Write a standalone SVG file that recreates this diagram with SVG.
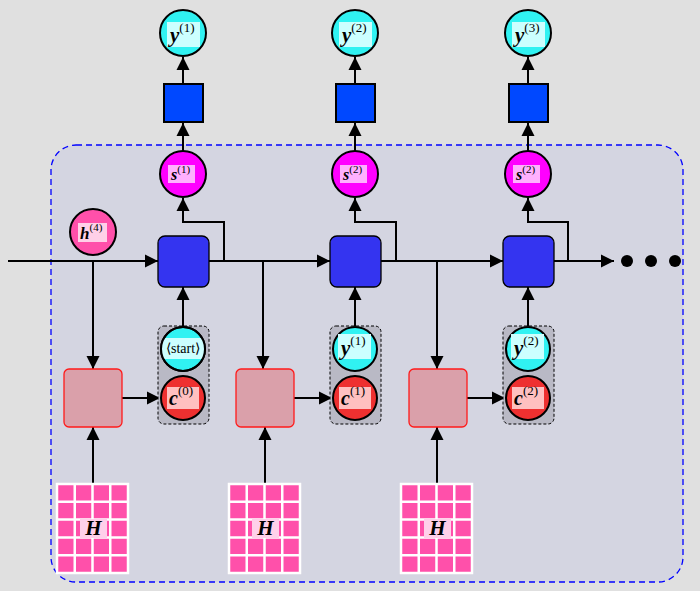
<svg xmlns="http://www.w3.org/2000/svg" width="700" height="591" viewBox="0 0 700 591">
<style>
.ln{stroke:#000;stroke-width:2;fill:none}
.arr{marker-end:url(#ah)}
.cell{fill:#3434f0;stroke:#000;stroke-width:1.3}
.sq{fill:#0048ff;stroke:#000;stroke-width:2}
.ycirc{fill:#30f2f2;stroke:#000;stroke-width:2}
.scirc{fill:#ff00ff;stroke:#000;stroke-width:2}
.ccirc{fill:#ee3030;stroke:#000;stroke-width:2}
.hcirc{fill:#ff50aa;stroke:#000;stroke-width:2}
.att{fill:#daa0aa;stroke:#ff1a1a;stroke-width:1.3}
.grp{fill:#b9b9c5;stroke:#000;stroke-width:1;stroke-dasharray:3,2}
.v{font-family:"Liberation Serif",serif;font-weight:bold;font-style:italic;fill:#000}
.sup{font-family:"Liberation Serif",serif;font-weight:normal;font-style:normal}
.rm{font-family:"Liberation Serif",serif;fill:#000}
</style>
<defs>
<marker id="ah" markerUnits="userSpaceOnUse" markerWidth="14" markerHeight="14" refX="13" refY="7" orient="auto">
<path d="M0,0.5 L13,7 L0,13.5 z" fill="#000"/>
</marker>
<clipPath id="cy1"><circle cx="183" cy="349" r="22"/></clipPath>
<g id="grid">
<rect x="0" y="0" width="71" height="89" fill="#ff50aa" stroke="#fff" stroke-width="2.5"/>
<path d="M17.75,0V89M35.5,0V89M53.25,0V89M0,17.8H71M0,35.6H71M0,53.4H71M0,71.2H71" stroke="#fff" stroke-width="2.5"/>
<rect x="23" y="35" width="27" height="19" fill="#ffd0ea"/>
<text x="36.5" y="51" font-size="21" text-anchor="middle" class="v">H</text>
</g>
</defs>
<rect width="700" height="591" fill="#e0e0e0"/>
<rect x="51" y="145" width="632" height="437" rx="25" fill="#d4d5e1" stroke="#0000ff" stroke-width="1.3" stroke-dasharray="6,4"/>

<g id="connectors">
<line class="ln arr" x1="183" y1="84" x2="183" y2="57"/>
<line class="ln arr" x1="183" y1="151" x2="183" y2="123"/>
<polyline class="ln arr" points="209,261 224,261 224,222 183,222 183,198"/>
<line class="ln arr" x1="8" y1="261" x2="158" y2="261"/>
<line class="ln arr" x1="93" y1="261" x2="93" y2="369"/>
<line class="ln arr" x1="93" y1="484" x2="93" y2="427"/>
<line class="ln arr" x1="122" y1="398" x2="160" y2="398"/>
<line class="ln arr" x1="183" y1="327" x2="183" y2="287"/>
<line class="ln arr" x1="355" y1="84" x2="355" y2="57"/>
<line class="ln arr" x1="355" y1="151" x2="355" y2="123"/>
<polyline class="ln arr" points="381,261 396,261 396,222 355,222 355,198"/>
<line class="ln arr" x1="209" y1="261" x2="330" y2="261"/>
<line class="ln arr" x1="263" y1="261" x2="263" y2="369"/>
<line class="ln arr" x1="265" y1="484" x2="265" y2="427"/>
<line class="ln arr" x1="294" y1="398" x2="332" y2="398"/>
<line class="ln arr" x1="355" y1="327" x2="355" y2="287"/>
<line class="ln arr" x1="528" y1="84" x2="528" y2="57"/>
<line class="ln arr" x1="528" y1="151" x2="528" y2="123"/>
<polyline class="ln arr" points="553,261 568,261 568,222 528,222 528,198"/>
<line class="ln arr" x1="381" y1="261" x2="503" y2="261"/>
<line class="ln arr" x1="437" y1="261" x2="437" y2="369"/>
<line class="ln arr" x1="437" y1="484" x2="437" y2="427"/>
<line class="ln arr" x1="467" y1="398" x2="505" y2="398"/>
<line class="ln arr" x1="528" y1="327" x2="528" y2="287"/>
<line class="ln arr" x1="553" y1="261" x2="614" y2="261"/>
</g>

<g id="dots">
<circle cx="627" cy="261" r="6" fill="#000"/>
<circle cx="651" cy="261" r="6" fill="#000"/>
<circle cx="675" cy="261" r="6" fill="#000"/>
</g>

<g id="y_out1">
<circle class="ycirc" cx="183" cy="33" r="23"/>
<rect x="167" y="22" width="33" height="25" fill="#ccffff"/>
<text class="v" x="170" y="42" font-size="21">y<tspan class="sup" font-size="13" dy="-10">(1)</tspan></text>
</g>
<g id="y_out2">
<circle class="ycirc" cx="355" cy="33" r="23"/>
<rect x="339" y="22" width="33" height="25" fill="#ccffff"/>
<text class="v" x="342" y="42" font-size="21">y<tspan class="sup" font-size="13" dy="-10">(2)</tspan></text>
</g>
<g id="y_out3">
<circle class="ycirc" cx="528" cy="33" r="23"/>
<rect x="512" y="22" width="33" height="25" fill="#ccffff"/>
<text class="v" x="515" y="42" font-size="21">y<tspan class="sup" font-size="13" dy="-10">(3)</tspan></text>
</g>

<g id="proj1"><rect class="sq" x="164" y="84" width="39" height="38"/></g>
<g id="proj2"><rect class="sq" x="336" y="84" width="39" height="38"/></g>
<g id="proj3"><rect class="sq" x="509" y="84" width="39" height="38"/></g>

<g id="s1">
<circle class="scirc" cx="183" cy="174" r="23"/>
<rect x="168" y="165" width="27" height="18" fill="#ffb0ff"/>
<text class="v" x="171" y="180" font-size="16">s<tspan class="sup" font-size="11" dy="-7">(1)</tspan></text>
</g>
<g id="s2">
<circle class="scirc" cx="355" cy="174" r="23"/>
<rect x="340" y="165" width="27" height="18" fill="#ffb0ff"/>
<text class="v" x="343" y="180" font-size="16">s<tspan class="sup" font-size="11" dy="-7">(2)</tspan></text>
</g>
<g id="s3">
<circle class="scirc" cx="528" cy="174" r="23"/>
<rect x="513" y="165" width="27" height="18" fill="#ffb0ff"/>
<text class="v" x="516" y="180" font-size="16">s<tspan class="sup" font-size="11" dy="-7">(2)</tspan></text>
</g>

<g id="h4">
<circle class="hcirc" cx="93" cy="232" r="23"/>
<rect x="78" y="223" width="29" height="19" fill="#ffd0e8"/>
<text class="v" x="80" y="239" font-size="17">h<tspan class="sup" font-size="11" dy="-8">(4)</tspan></text>
</g>

<g id="cell1"><rect class="cell" x="158" y="236" width="51" height="51" rx="7"/></g>
<g id="cell2"><rect class="cell" x="330" y="236" width="51" height="51" rx="7"/></g>
<g id="cell3"><rect class="cell" x="503" y="236" width="51" height="51" rx="7"/></g>

<g id="att1"><rect class="att" x="64" y="369" width="58" height="58" rx="5"/></g>
<g id="att2"><rect class="att" x="236" y="369" width="58" height="58" rx="5"/></g>
<g id="att3"><rect class="att" x="409" y="369" width="58" height="58" rx="5"/></g>

<g id="in1">
<rect class="grp" x="158" y="326" width="51" height="98" rx="6"/>
<circle class="ycirc" cx="183" cy="349" r="22"/>
<rect x="160" y="338" width="46" height="21" fill="#ccffff" clip-path="url(#cy1)"/>
<circle cx="183" cy="349" r="22" fill="none" stroke="#000" stroke-width="2"/>
<text class="rm" x="183" y="353" font-size="14" text-anchor="middle">⟨start⟩</text>
<circle class="ccirc" cx="183" cy="398" r="22"/>
<rect x="167" y="387" width="32" height="22" fill="#ffc0c0"/>
<text class="v" x="169" y="405" font-size="20">c<tspan class="sup" font-size="13" dy="-10">(0)</tspan></text>
</g>
<g id="in2">
<rect class="grp" x="330" y="326" width="51" height="98" rx="6"/>
<circle class="ycirc" cx="355" cy="349" r="22"/>
<rect x="338" y="334" width="33" height="25" fill="#ccffff"/>
<text class="v" x="341" y="355" font-size="21">y<tspan class="sup" font-size="13" dy="-10">(1)</tspan></text>
<circle class="ccirc" cx="355" cy="398" r="22"/>
<rect x="339" y="387" width="32" height="22" fill="#ffc0c0"/>
<text class="v" x="341" y="405" font-size="20">c<tspan class="sup" font-size="13" dy="-10">(1)</tspan></text>
</g>
<g id="in3">
<rect class="grp" x="503" y="326" width="51" height="98" rx="6"/>
<circle class="ycirc" cx="528" cy="349" r="22"/>
<rect x="511" y="334" width="33" height="25" fill="#ccffff"/>
<text class="v" x="514" y="355" font-size="21">y<tspan class="sup" font-size="13" dy="-10">(2)</tspan></text>
<circle class="ccirc" cx="528" cy="398" r="22"/>
<rect x="512" y="387" width="32" height="22" fill="#ffc0c0"/>
<text class="v" x="514" y="405" font-size="20">c<tspan class="sup" font-size="13" dy="-10">(2)</tspan></text>
</g>

<g id="H1"><use href="#grid" x="57" y="484"/></g>
<g id="H2"><use href="#grid" x="229" y="484"/></g>
<g id="H3"><use href="#grid" x="401" y="484"/></g>
</svg>
